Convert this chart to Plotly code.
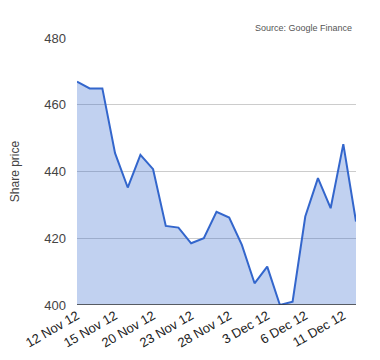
import plotly.graph_objects as go

dates = ["12 Nov 12", "13 Nov 12", "14 Nov 12", "15 Nov 12", "16 Nov 12", "19 Nov 12",
         "20 Nov 12", "21 Nov 12", "22 Nov 12", "23 Nov 12", "26 Nov 12", "27 Nov 12",
         "28 Nov 12", "29 Nov 12", "30 Nov 12", "3 Dec 12", "4 Dec 12", "5 Dec 12",
         "6 Dec 12", "7 Dec 12", "10 Dec 12", "11 Dec 12", "12 Dec 12"]
prices = [466.9, 464.9, 464.9, 445.5, 435.2, 445.0, 440.7, 423.7, 423.2, 418.5, 420.0,
          427.9, 426.2, 418.0, 406.5, 411.5, 400.0, 401.0, 426.5, 438.0, 429.0, 448.2, 425.0]
tick_labels = ["12 Nov 12", "15 Nov 12", "20 Nov 12", "23 Nov 12", "28 Nov 12",
               "3 Dec 12", "6 Dec 12", "11 Dec 12"]
y_ticks = [400, 420, 440, 460, 480]

fig = go.Figure()
fig.add_trace(go.Scatter(
    x=dates, y=prices, mode="lines",
    line=dict(color="#3366cc", width=2),
    fill="tozeroy", fillcolor="rgba(51,102,204,0.3)",
    hoverinfo="skip",
))

font_family = "Liberation Sans, Arial, sans-serif"
fig.update_layout(
    width=372, height=352,
    margin=dict(l=69, r=24, t=30, b=55),
    paper_bgcolor="white", plot_bgcolor="white",
    showlegend=False,
    font=dict(family=font_family, color="#444", size=13),
    xaxis=dict(
        type="category", range=[0, len(dates) - 1],
        tickmode="array", tickvals=tick_labels, ticktext=tick_labels,
        tickangle=-30, showgrid=False, zeroline=False, ticks="",
        tickfont=dict(size=13, color="#222"),
        showline=False, automargin=False,
    ),
    yaxis=dict(
        range=[400, 480], tickvals=y_ticks,
        showgrid=True, gridcolor="#cccccc", gridwidth=1,
        zeroline=False, ticks="", ticklen=0,
        ticklabelstandoff=10,
        tickfont=dict(size=13, color="#444"),
        title=dict(text="Share price", font=dict(size=12, color="#444"), standoff=22),
        showline=False, automargin=False,
    ),
    annotations=[dict(
        text="Source: Google Finance", xref="paper", yref="paper",
        x=1.0, y=1.0, xanchor="right", yanchor="bottom", yshift=3, xshift=-2,
        showarrow=False, font=dict(size=9, color="#555"),
    )],
    shapes=[dict(type="line", xref="paper", yref="y", x0=0, x1=1, y0=400, y1=400,
                 line=dict(color="#333", width=1.5))],
)

fig.write_html("out.html")
